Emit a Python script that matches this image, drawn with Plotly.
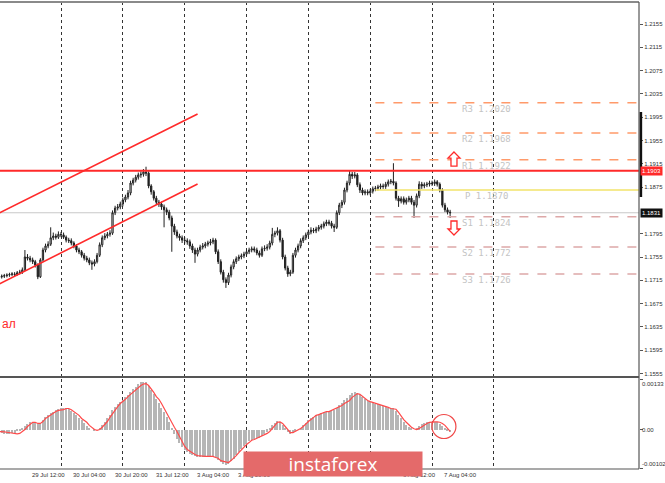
import plotly.graph_objects as go

# hourly EURUSD bars, index 0 = 29 Jul 00:00 (trading hours only)
opens = [
    1.1720, 1.1721, 1.1722, 1.1723, 1.1724, 1.1725, 1.1726, 1.1725, 1.1728, 1.1729,
    1.1733, 1.1755, 1.1753, 1.1750, 1.1747, 1.1741, 1.1721, 1.1750, 1.1767, 1.1774,
    1.1777, 1.1788, 1.1791, 1.1789, 1.1794, 1.1793, 1.1789, 1.1784, 1.1783, 1.1779,
    1.1774, 1.1767, 1.1764, 1.1758, 1.1753, 1.1750, 1.1745, 1.1743, 1.1747, 1.1758,
    1.1776, 1.1788, 1.1791, 1.1794, 1.1796, 1.1831, 1.1839, 1.1841, 1.1846, 1.1853,
    1.1858, 1.1865, 1.1882, 1.1887, 1.1892, 1.1896, 1.1897, 1.1901, 1.1899, 1.1877,
    1.1867, 1.1856, 1.1849, 1.1846, 1.1841, 1.1836, 1.1832, 1.1822, 1.1808, 1.1798,
    1.1791, 1.1788, 1.1784, 1.1783, 1.1781, 1.1774, 1.1767, 1.1760, 1.1767, 1.1772,
    1.1774, 1.1777, 1.1779, 1.1781, 1.1784, 1.1764, 1.1747, 1.1729, 1.1716, 1.1711,
    1.1724, 1.1738, 1.1747, 1.1752, 1.1755, 1.1757, 1.1760, 1.1764, 1.1767, 1.1769,
    1.1767, 1.1762, 1.1758, 1.1769, 1.1770, 1.1772, 1.1779, 1.1794, 1.1796, 1.1800,
    1.1784, 1.1755, 1.1736, 1.1726, 1.1729, 1.1758, 1.1767, 1.1774, 1.1783, 1.1788,
    1.1793, 1.1798, 1.1801, 1.1800, 1.1803, 1.1806, 1.1808, 1.1812, 1.1815, 1.1813,
    1.1808, 1.1806, 1.1831, 1.1844, 1.1849, 1.1870, 1.1882, 1.1897, 1.1894, 1.1896,
    1.1879, 1.1870, 1.1865, 1.1867, 1.1865, 1.1868, 1.1872, 1.1873, 1.1875, 1.1877,
    1.1876, 1.1880, 1.1884, 1.1885, 1.1882, 1.1856, 1.1851, 1.1855, 1.1849, 1.1853,
    1.1856, 1.1849, 1.1844, 1.1860, 1.1880, 1.1877, 1.1879, 1.1880, 1.1882, 1.1881,
    1.1884, 1.1880, 1.1870, 1.1844, 1.1836, 1.1832,
]
closes = [
    1.1721, 1.1722, 1.1723, 1.1724, 1.1725, 1.1726, 1.1725, 1.1728, 1.1729, 1.1733,
    1.1755, 1.1753, 1.1750, 1.1747, 1.1741, 1.1721, 1.1750, 1.1767, 1.1774, 1.1777,
    1.1788, 1.1791, 1.1789, 1.1794, 1.1793, 1.1789, 1.1784, 1.1783, 1.1779, 1.1774,
    1.1767, 1.1764, 1.1758, 1.1753, 1.1750, 1.1745, 1.1743, 1.1747, 1.1758, 1.1776,
    1.1788, 1.1791, 1.1794, 1.1796, 1.1831, 1.1839, 1.1841, 1.1846, 1.1853, 1.1858,
    1.1865, 1.1882, 1.1887, 1.1892, 1.1896, 1.1897, 1.1901, 1.1899, 1.1877, 1.1867,
    1.1856, 1.1849, 1.1846, 1.1841, 1.1836, 1.1832, 1.1822, 1.1808, 1.1798, 1.1791,
    1.1788, 1.1784, 1.1783, 1.1781, 1.1774, 1.1767, 1.1760, 1.1767, 1.1772, 1.1774,
    1.1777, 1.1779, 1.1781, 1.1784, 1.1764, 1.1747, 1.1729, 1.1716, 1.1711, 1.1724,
    1.1738, 1.1747, 1.1752, 1.1755, 1.1757, 1.1760, 1.1764, 1.1767, 1.1769, 1.1767,
    1.1762, 1.1758, 1.1769, 1.1770, 1.1772, 1.1779, 1.1794, 1.1796, 1.1800, 1.1784,
    1.1755, 1.1736, 1.1726, 1.1729, 1.1758, 1.1767, 1.1774, 1.1783, 1.1788, 1.1793,
    1.1798, 1.1801, 1.1800, 1.1803, 1.1806, 1.1808, 1.1812, 1.1815, 1.1813, 1.1808,
    1.1806, 1.1831, 1.1844, 1.1849, 1.1870, 1.1882, 1.1897, 1.1894, 1.1896, 1.1879,
    1.1870, 1.1865, 1.1867, 1.1865, 1.1868, 1.1872, 1.1873, 1.1875, 1.1877, 1.1876,
    1.1880, 1.1884, 1.1885, 1.1882, 1.1856, 1.1851, 1.1855, 1.1849, 1.1853, 1.1856,
    1.1849, 1.1844, 1.1860, 1.1880, 1.1877, 1.1879, 1.1880, 1.1882, 1.1881, 1.1884,
    1.1880, 1.1870, 1.1844, 1.1836, 1.1832, 1.1831,
]
highs = [
    1.1724, 1.1725, 1.1726, 1.1727, 1.1728, 1.1729, 1.1729, 1.1731, 1.1733, 1.1737,
    1.1767, 1.1760, 1.1757, 1.1754, 1.1750, 1.1744, 1.1753, 1.1771, 1.1778, 1.1782,
    1.1806, 1.1797, 1.1795, 1.1799, 1.1798, 1.1797, 1.1792, 1.1788, 1.1787, 1.1782,
    1.1777, 1.1771, 1.1767, 1.1762, 1.1757, 1.1754, 1.1749, 1.1751, 1.1762, 1.1780,
    1.1792, 1.1796, 1.1798, 1.1801, 1.1835, 1.1843, 1.1846, 1.1850, 1.1857, 1.1862,
    1.1870, 1.1886, 1.1891, 1.1896, 1.1900, 1.1902, 1.1906, 1.1910, 1.1902, 1.1880,
    1.1870, 1.1860, 1.1853, 1.1850, 1.1845, 1.1840, 1.1836, 1.1826, 1.1812, 1.1802,
    1.1795, 1.1792, 1.1789, 1.1787, 1.1785, 1.1778, 1.1771, 1.1771, 1.1776, 1.1779,
    1.1781, 1.1783, 1.1786, 1.1788, 1.1787, 1.1768, 1.1751, 1.1733, 1.1720, 1.1728,
    1.1742, 1.1751, 1.1756, 1.1759, 1.1761, 1.1764, 1.1768, 1.1771, 1.1773, 1.1773,
    1.1771, 1.1766, 1.1773, 1.1775, 1.1777, 1.1783, 1.1805, 1.1800, 1.1806, 1.1803,
    1.1788, 1.1759, 1.1740, 1.1733, 1.1762, 1.1771, 1.1778, 1.1787, 1.1792, 1.1797,
    1.1802, 1.1806, 1.1805, 1.1807, 1.1810, 1.1812, 1.1816, 1.1819, 1.1819, 1.1817,
    1.1812, 1.1835, 1.1848, 1.1853, 1.1874, 1.1886, 1.1903, 1.1901, 1.1901, 1.1899,
    1.1883, 1.1874, 1.1871, 1.1871, 1.1872, 1.1876, 1.1877, 1.1879, 1.1881, 1.1881,
    1.1884, 1.1888, 1.1889, 1.1916, 1.1885, 1.1860, 1.1859, 1.1859, 1.1857, 1.1860,
    1.1860, 1.1853, 1.1864, 1.1885, 1.1884, 1.1883, 1.1884, 1.1886, 1.1886, 1.1888,
    1.1887, 1.1883, 1.1873, 1.1848, 1.1840, 1.1836,
]
lows = [
    1.1717, 1.1718, 1.1719, 1.1720, 1.1721, 1.1722, 1.1722, 1.1723, 1.1725, 1.1726,
    1.1731, 1.1749, 1.1746, 1.1743, 1.1737, 1.1717, 1.1719, 1.1747, 1.1763, 1.1770,
    1.1774, 1.1784, 1.1785, 1.1786, 1.1789, 1.1786, 1.1780, 1.1779, 1.1775, 1.1770,
    1.1763, 1.1760, 1.1754, 1.1749, 1.1746, 1.1741, 1.1733, 1.1739, 1.1744, 1.1755,
    1.1772, 1.1784, 1.1787, 1.1790, 1.1793, 1.1827, 1.1835, 1.1837, 1.1842, 1.1849,
    1.1854, 1.1861, 1.1878, 1.1883, 1.1888, 1.1891, 1.1893, 1.1894, 1.1873, 1.1862,
    1.1852, 1.1845, 1.1841, 1.1836, 1.1806, 1.1827, 1.1818, 1.1764, 1.1793, 1.1787,
    1.1783, 1.1779, 1.1778, 1.1776, 1.1769, 1.1762, 1.1745, 1.1756, 1.1763, 1.1768,
    1.1770, 1.1773, 1.1775, 1.1777, 1.1760, 1.1743, 1.1725, 1.1711, 1.1702, 1.1707,
    1.1720, 1.1734, 1.1743, 1.1748, 1.1751, 1.1753, 1.1756, 1.1760, 1.1763, 1.1763,
    1.1758, 1.1754, 1.1755, 1.1765, 1.1766, 1.1768, 1.1775, 1.1789, 1.1792, 1.1780,
    1.1751, 1.1732, 1.1721, 1.1722, 1.1726, 1.1754, 1.1763, 1.1770, 1.1779, 1.1784,
    1.1789, 1.1794, 1.1796, 1.1796, 1.1799, 1.1802, 1.1804, 1.1808, 1.1809, 1.1804,
    1.1798, 1.1803, 1.1827, 1.1839, 1.1845, 1.1866, 1.1878, 1.1889, 1.1890, 1.1875,
    1.1865, 1.1861, 1.1861, 1.1861, 1.1861, 1.1864, 1.1868, 1.1869, 1.1871, 1.1872,
    1.1872, 1.1876, 1.1880, 1.1878, 1.1852, 1.1841, 1.1847, 1.1845, 1.1845, 1.1849,
    1.1845, 1.1822, 1.1840, 1.1856, 1.1872, 1.1873, 1.1875, 1.1876, 1.1877, 1.1877,
    1.1876, 1.1866, 1.1840, 1.1832, 1.1828, 1.1822,
]

# MACD(12,26,9): main histogram and signal line
macd_main = [
    -0.00006, -0.00008, -0.0001, -0.0001, -0.0001, -0.00009, -0.00007, -0.00004, -0.00001, 0.00004,
    0.0001, 0.00016, 0.0002, 0.00022, 0.00019, 0.00015, 0.00018, 0.00025, 0.00033, 0.00039,
    0.00044, 0.00048, 0.00052, 0.00055, 0.00056, 0.00058, 0.00057, 0.00055, 0.0005, 0.00044,
    0.00038, 0.00031, 0.00025, 0.00018, 0.00011, 0.00005, 0.0, -0.00003, 0.0, 0.00006,
    0.00013, 0.00021, 0.0003, 0.0004, 0.00052, 0.0006, 0.00067, 0.00073, 0.00079, 0.00085,
    0.00092, 0.00099, 0.00106, 0.00113, 0.00119, 0.00124, 0.00126, 0.00124, 0.00116, 0.00105,
    0.00093, 0.00081, 0.0007, 0.00058, 0.00046, 0.00034, 0.0002, 0.00005, -0.0001, -0.00024,
    -0.00035, -0.00045, -0.00052, -0.00058, -0.00063, -0.00066, -0.00069, -0.0007, -0.00071, -0.0007,
    -0.0007, -0.0007, -0.0007, -0.00071, -0.00074, -0.00079, -0.00085, -0.0009, -0.00091, -0.00088,
    -0.00082, -0.00075, -0.00066, -0.00058, -0.0005, -0.00042, -0.00036, -0.0003, -0.00026, -0.00024,
    -0.00022, -0.0002, -0.00016, -0.00011, -0.00005, 0.00003, 0.00012, 0.00019, 0.00024, 0.00022,
    0.00014, 0.00004, -0.00006, -0.0001, -0.00008, -0.00004, 0.0, 0.00006, 0.00012, 0.00019,
    0.00025, 0.0003, 0.00035, 0.00039, 0.00042, 0.00045, 0.00047, 0.00048, 0.00048, 0.0005,
    0.00052, 0.00058, 0.00064, 0.0007, 0.00077, 0.00084, 0.0009, 0.00096, 0.00099, 0.00097,
    0.00092, 0.00086, 0.0008, 0.00076, 0.00073, 0.00071, 0.00069, 0.00067, 0.00065, 0.00063,
    0.0006, 0.00058, 0.00058, 0.00056, 0.0005, 0.0004, 0.0003, 0.00021, 0.00013, 0.00007,
    0.00003, 0.0, 0.00004, 0.0001, 0.00015, 0.00018, 0.0002, 0.00021, 0.00022, 0.00022,
    0.0002, 0.00016, 0.0001, 0.00004, -0.00002, -0.00006,
]
macd_signal = [
    -0.00004, -0.00004, -0.00005, -0.00006, -0.00007, -0.00009, -0.0001, -0.0001, -0.00009, -0.00005,
    0.00001, 0.00009, 0.00014, 0.0002, 0.0002, 0.00017, 0.00017, 0.00022, 0.0003, 0.00035,
    0.0004, 0.00043, 0.00048, 0.00051, 0.00052, 0.00053, 0.00056, 0.00056, 0.00053, 0.00048,
    0.00043, 0.00038, 0.0003, 0.00025, 0.0002, 0.00012, 0.00007, 0.00001, -0.00001, 0.00001,
    0.00007, 0.00014, 0.00022, 0.00033, 0.00043, 0.00053, 0.00061, 0.00069, 0.00074, 0.0008,
    0.00087, 0.00093, 0.00098, 0.00106, 0.00111, 0.00116, 0.0012, 0.00121, 0.00116, 0.00108,
    0.00098, 0.00087, 0.0008, 0.00069, 0.00056, 0.00043, 0.00033, 0.0002, 0.00007, -0.00004,
    -0.00017, -0.0003, -0.00043, -0.00051, -0.00056, -0.00061, -0.00064, -0.00067, -0.00068, -0.00069,
    -0.00069, -0.00069, -0.00069, -0.00069, -0.00072, -0.00074, -0.0008, -0.00082, -0.00085, -0.00085,
    -0.0008, -0.00074, -0.00067, -0.00059, -0.00051, -0.00043, -0.00038, -0.00033, -0.00027, -0.00025,
    -0.00022, -0.0002, -0.00017, -0.00012, -0.00009, -0.00004, 0.00004, 0.00014, 0.0002, 0.00021,
    0.00017, 0.00009, 0.00001, -0.00007, -0.00007, -0.00004, -0.00001, 0.00004, 0.00009, 0.00017,
    0.00022, 0.00027, 0.00033, 0.00038, 0.0004, 0.00043, 0.00046, 0.00048, 0.00048, 0.00051,
    0.00053, 0.00056, 0.00059, 0.00064, 0.00069, 0.00072, 0.00077, 0.00085, 0.0009, 0.00095,
    0.00093, 0.00087, 0.00082, 0.00077, 0.00074, 0.00072, 0.0007, 0.00069, 0.00067, 0.00064,
    0.00061, 0.00059, 0.00056, 0.00055, 0.00054, 0.00046, 0.00035, 0.00027, 0.0002, 0.00012,
    0.00007, 0.00003, 0.00001, 0.00004, 0.00009, 0.00013, 0.00017, 0.0002, 0.00021, 0.00021,
    0.00021, 0.0002, 0.00017, 0.00012, 0.00004, -0.00004,
]

bars = list(range(len(closes)))

# axis labels (1.1835 sits under the last-price box, so it is left out;
# the 4-5 Aug time labels sit fully under the watermark, so they are left out too)
price_ticks = [1.1555, 1.1595, 1.1635, 1.1675, 1.1715, 1.1755, 1.1795,
               1.1875, 1.1915, 1.1955, 1.1995, 1.2035, 1.2075, 1.2115, 1.2155]
macd_labels = ["0.00133", "0.00", "-0.00102"]
macd_label_values = [0.00133, 0.0, -0.00102]
day_start_bars = [0, 24, 48, 72, 96, 120, 144, 168, 192]
time_label_bars = [-4, 12, 28, 44, 60, 76, 92, 156, 172]
time_labels = ["28 Jul 20:00", "29 Jul 12:00", "30 Jul 04:00", "30 Jul 20:00",
               "31 Jul 12:00", "3 Aug 04:00", "3 Aug 20:00", "6 Aug 12:00", "7 Aug 04:00"]

# levels drawn on the chart
resistance_level = 1.1903
last_price = 1.1831
pivot_names = ["R3", "R2", "R1", "P", "S1", "S2", "S3"]
pivot_levels = [1.2020, 1.1968, 1.1922, 1.1870, 1.1824, 1.1772, 1.1726]
pivot_start_bar = 146
channel_upper = [(0, 1.18305), (77, 1.20005)]
channel_lower = [(0, 1.17086), (77, 1.18803)]
day_range = (1.1858, 1.2004)
arrow_up = (176.5, 1.19232)
arrow_down = (176.5, 1.18048)
circle_at = (172.6, 0.00009)

RED = "#FF2A2A"
TXT = "#333333"

fig = go.Figure()
fig.add_trace(go.Bar(
    x=bars, y=macd_main, xaxis="x2", yaxis="y2", width=0.45,
    marker=dict(color="#B5B5B5", line=dict(width=0)), showlegend=False,
))
fig.add_trace(go.Scatter(
    x=bars, y=macd_signal, xaxis="x2", yaxis="y2", mode="lines",
    line=dict(color="#FF4A4A", width=1.2), showlegend=False,
))
fig.add_trace(go.Candlestick(
    x=bars, open=opens, high=highs, low=lows, close=closes,
    increasing=dict(line=dict(color="#202020", width=1), fillcolor="#FFFFFF"),
    decreasing=dict(line=dict(color="#202020", width=1), fillcolor="#202020"),
    whiskerwidth=0, showlegend=False, hoverinfo="skip",
))

shapes = []
# current price and pivot levels
shapes.append(dict(type="line", xref="x", yref="y", x0=-1, x1=249, y0=last_price, y1=last_price,
                   line=dict(color="#C8C8C8", width=1.2), layer="below"))
for name, lvl in zip(pivot_names, pivot_levels):
    if name == "P":
        col, dash = "#F2E36A", "solid"
    elif name.startswith("R"):
        col, dash = "#FF9A6A", "dash"
    else:
        col, dash = "#DDA8A8", "dash"
    shapes.append(dict(type="line", xref="x", yref="y", x0=pivot_start_bar, x1=249, y0=lvl, y1=lvl,
                       line=dict(color=col, width=1.5, dash=dash)))
shapes.append(dict(type="line", xref="x", yref="y", x0=-1, x1=249,
                   y0=resistance_level, y1=resistance_level, line=dict(color=RED, width=2)))
for chan in (channel_upper, channel_lower):
    shapes.append(dict(type="line", xref="x", yref="y", x0=chan[0][0], y0=chan[0][1],
                       x1=chan[1][0], y1=chan[1][1], line=dict(color=RED, width=1.6)))
# hollow arrows above R1 and below S1
for (ax, ay), path in ((arrow_up, "M 0 7 L 6 1 L 3 1 L 3 -7 L -3 -7 L -3 1 L -6 1 Z"),
                       (arrow_down, "M 0 -7 L 6 -1 L 3 -1 L 3 7 L -3 7 L -3 -1 L -6 -1 Z")):
    shapes.append(dict(type="path", xref="x", yref="y", xsizemode="pixel", ysizemode="pixel",
                       xanchor=ax, yanchor=ay, path=path, fillcolor="white",
                       line=dict(color=RED, width=1.3)))
# pane borders
shapes.append(dict(type="line", xref="paper", yref="paper", x0=0, x1=1, y0=1, y1=1,
                   line=dict(color="#8A8A8A", width=2)))
shapes.append(dict(type="line", xref="paper", yref="paper", x0=0, x1=1, y0=0.197, y1=0.197,
                   line=dict(color="#555555", width=2)))
shapes.append(dict(type="line", xref="paper", yref="paper", x0=0, x1=1, y0=0, y1=0,
                   line=dict(color="#555555", width=1.2)))
shapes.append(dict(type="line", xref="paper", yref="paper", x0=1, x1=1, y0=0, y1=1,
                   line=dict(color="#555555", width=1.2)))
shapes.append(dict(type="line", xref="paper", yref="y", x0=1.003, x1=1.003,
                   y0=day_range[0], y1=day_range[1], line=dict(color="#111111", width=2.5)))
# circle on MACD
shapes.append(dict(type="circle", xref="x2", yref="y2", xsizemode="pixel", ysizemode="pixel",
                   xanchor=circle_at[0], yanchor=circle_at[1], x0=-12, x1=12, y0=-12, y1=12,
                   line=dict(color="#F04848", width=1.2)))

annotations = []
for name, lvl in zip(pivot_names, pivot_levels):
    annotations.append(dict(x=189.3, y=lvl, xref="x", yref="y", text=f"{name} {lvl:.4f}",
                            showarrow=False, yanchor="top", yshift=1,
                            font=dict(family="DejaVu Sans Mono", size=9, color="#C4C4C4")))
for b, lab in zip(time_label_bars, time_labels):
    annotations.append(dict(x=b, y=0, xref="x", yref="paper", text=lab, showarrow=False,
                            xanchor="left", yanchor="top", yshift=-1,
                            font=dict(family="Liberation Sans", size=6, color=TXT)))
for v, lab, anc in zip(macd_label_values, macd_labels, ["top", "middle", "bottom"]):
    annotations.append(dict(x=1, y=v, xref="paper", yref="y2", text=lab, showarrow=False,
                            xanchor="left", yanchor=anc, xshift=1,
                            font=dict(family="Liberation Sans", size=6, color=TXT)))
annotations.append(dict(x=1, y=resistance_level, xref="paper", yref="y", text=f"{resistance_level:.4f}",
                        showarrow=False, xanchor="left", xshift=1, bgcolor=RED, borderpad=1,
                        font=dict(family="Liberation Sans", size=6, color="white")))
annotations.append(dict(x=1, y=last_price, xref="paper", yref="y", text=f"{last_price:.4f}",
                        showarrow=False, xanchor="left", xshift=1, bgcolor="#111111", borderpad=1,
                        font=dict(family="Liberation Sans", size=6, color="white")))
annotations.append(dict(x=0, y=1.1640, xref="paper", yref="y", text="ал", showarrow=False,
                        xanchor="left", font=dict(family="Liberation Sans", size=12, color=RED)))
# watermark, drawn last so it covers the labels beneath it
annotations.append(dict(x=0.5211, y=0.0107, xref="paper", yref="paper", text="instaforex",
                        showarrow=False, xanchor="center", yanchor="middle",
                        width=178, height=24, bgcolor="#E46A6A", borderpad=0,
                        font=dict(family="Open Sans", size=19, color="white")))

grid_x = dict(range=[0.33, 248.3], tickvals=day_start_bars, showticklabels=False, ticks="",
              showgrid=True, gridcolor="#333333", griddash="dot", gridwidth=1, zeroline=False)

fig.update_layout(
    width=665, height=483,
    margin=dict(l=0, r=26, t=2, b=14),
    paper_bgcolor="white", plot_bgcolor="white",
    showlegend=False, bargap=0,
    xaxis=dict(anchor="y", domain=[0, 1], rangeslider=dict(visible=False), automargin=False, **grid_x),
    xaxis2=dict(anchor="y2", domain=[0, 1], matches="x", automargin=False, **grid_x),
    yaxis=dict(domain=[0.197, 1], range=[1.1549, 1.21928], side="right", automargin=False,
               tickvals=price_ticks, ticktext=[f"{t:.4f}" for t in price_ticks],
               ticks="outside", ticklen=3, tickcolor="#555555", showgrid=False, zeroline=False,
               tickfont=dict(family="Liberation Sans", size=6, color=TXT)),
    yaxis2=dict(domain=[0, 0.1927], range=[-0.00102, 0.00133], side="right", automargin=False,
                tickvals=macd_label_values, showticklabels=False,
                ticks="outside", ticklen=3, tickcolor="#555555", showgrid=False, zeroline=False),
    shapes=shapes,
    annotations=annotations,
)

fig.write_html(
    "out.html",
    config={"displayModeBar": False},
    post_script="document.body.style.margin='0';document.body.style.overflow='hidden';",
)
